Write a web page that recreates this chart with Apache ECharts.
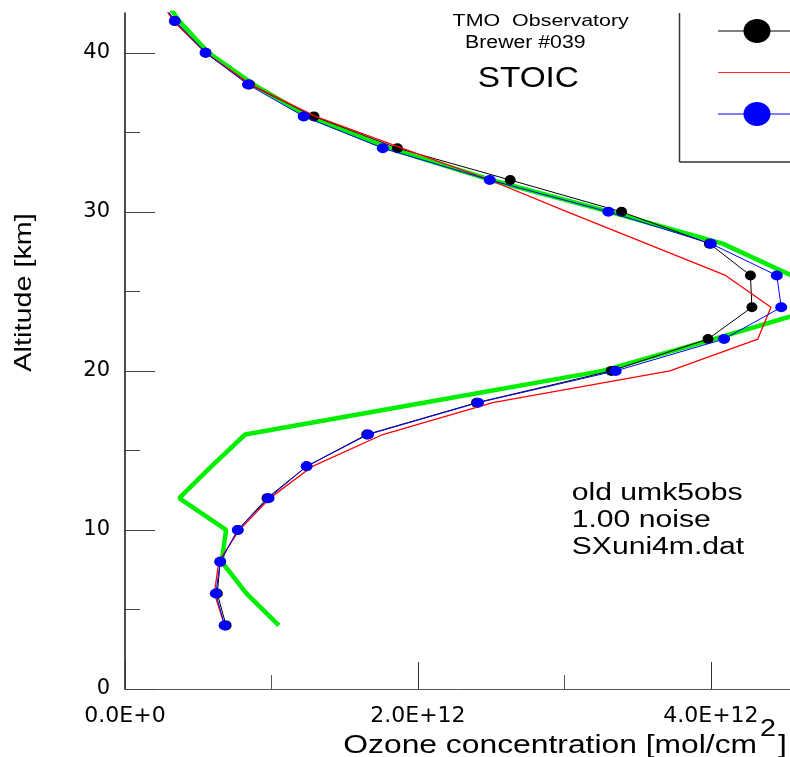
<!DOCTYPE html>
<html>
<head>
<meta charset="utf-8">
<script src="https://cdn.jsdelivr.net/npm/echarts@6/dist/echarts.min.js"></script>
<style>
  html, body { margin: 0; padding: 0; background: #ffffff; }
  #chart { width: 790px; height: 757px; }
</style>
</head>
<body>
<div id="chart"></div>
<script>
// Altitude levels [km]
const altitudes = [44, 42, 40, 38, 36, 34, 32, 30, 28, 26, 24, 22, 20, 18, 16, 14, 12, 10, 8, 6, 4];

// Ozone number density profiles, in units of 1E+12 mol/cm2
const blackProfile = [0.19, 0.34, 0.55, 0.85, 1.29, 1.86, 2.63, 3.39, 3.99, 4.27, 4.28, 3.98, 3.32, 2.40, 1.65, 1.24, 0.97, 0.77, 0.65, 0.63, 0.69];
const redProfile   = [0.19, 0.33, 0.55, 0.86, 1.30, 1.89, 2.49, 3.02, 3.56, 4.10, 4.41, 4.32, 3.72, 2.51, 1.76, 1.28, 0.99, 0.78, 0.64, 0.61, 0.68];
const blueProfile  = [0.19, 0.34, 0.55, 0.84, 1.22, 1.76, 2.49, 3.30, 4.00, 4.45, 4.48, 4.09, 3.35, 2.41, 1.66, 1.24, 0.98, 0.77, 0.65, 0.62, 0.68];
const greenProfile = [0.22, 0.37, 0.57, 0.88, 1.25, 1.80, 2.50, 3.31, 4.08, 4.55, 4.76, 4.02, 3.26, 2.04, 0.82, 0.59, 0.37, 0.69, 0.66, 0.83, 1.05];

// Axis ticks
const xTickValues = [0, 2, 4];
const xTickLabels = ['0.0E+0', '2.0E+12', '4.0E+12'];
const yTickValues = [0, 10, 20, 30, 40];
const yTickLabels = ['0', '10', '20', '30', '40'];

const pairs = (xs) => xs.map((v, i) => [v, altitudes[i]]);

const FONT = '"Liberation Sans", Arial, sans-serif';

function label(text, x, y, size, sx, align, extra) {
  return Object.assign({
    type: 'text',
    x: x, y: y,
    scaleX: sx, scaleY: 1,
    z: 100,
    style: {
      text: text,
      x: 0, y: 0,
      fontSize: size,
      fontFamily: FONT,
      fill: '#000',
      textAlign: align,
      textVerticalAlign: 'middle'
    }
  }, extra || {});
}

const chart = echarts.init(document.getElementById('chart'), null, { renderer: 'canvas' });

chart.setOption({
  animation: false,
  backgroundColor: '#ffffff',
  grid: { left: 125, top: 13, right: 0, bottom: 68, containLabel: false },
  xAxis: {
    type: 'value',
    min: 0,
    max: 4.54,
    interval: 2,
    axisLine: { show: true, onZero: false, lineStyle: { color: '#555', width: 1 } },
    axisTick: { show: true, inside: true, length: 27, customValues: xTickValues, lineStyle: { color: '#333', width: 1 } },
    minorTick: { show: true, splitNumber: 2, length: 14, lineStyle: { color: '#555', width: 1 } },
    splitLine: { show: false },
    axisLabel: {
      customValues: xTickValues,
      margin: 16,
      fontFamily: '"DejaVu Sans", sans-serif',
      fontSize: 22,
      color: '#000',
      formatter: (v) => {
        const i = xTickValues.findIndex((t) => Math.abs(t - v) < 1e-9);
        return i >= 0 ? xTickLabels[i] : '';
      }
    }
  },
  yAxis: {
    type: 'value',
    min: 0,
    max: 42.5,
    interval: 10,
    axisLine: { show: true, onZero: false, lineStyle: { color: '#111', width: 1.5 } },
    axisTick: { show: true, inside: true, length: 30, customValues: yTickValues, lineStyle: { color: '#444', width: 1 } },
    minorTick: { show: true, splitNumber: 2, length: 15, lineStyle: { color: '#444', width: 1 } },
    splitLine: { show: false },
    axisLabel: {
      customValues: yTickValues,
      margin: 15,
      fontFamily: '"DejaVu Sans", sans-serif',
      fontSize: 21,
      color: '#000',
      formatter: (v) => {
        const i = yTickValues.findIndex((t) => Math.abs(t - v) < 1e-9);
        return i >= 0 ? yTickLabels[i] : '';
      }
    }
  },
  series: [
    {
      name: 'green', type: 'line', data: pairs(greenProfile), z: 2,
      showSymbol: false, symbol: 'none', clip: true,
      lineStyle: { color: '#00ee00', width: 4.5 }
    },
    {
      name: 'black', type: 'line', data: pairs(blackProfile), z: 3,
      symbol: 'circle', symbolSize: [11, 10], clip: true,
      itemStyle: { color: '#000' },
      lineStyle: { color: '#000', width: 1 }
    },
    {
      name: 'red', type: 'line', data: pairs(redProfile), z: 4,
      showSymbol: false, symbol: 'none', clip: true,
      lineStyle: { color: '#ff0000', width: 1.3 }
    },
    {
      name: 'blue', type: 'line', data: pairs(blueProfile), z: 5,
      symbol: 'circle', symbolSize: [12, 10], clip: true,
      itemStyle: { color: '#0000ff' },
      lineStyle: { color: '#0000ff', width: 1 }
    }
  ],
  graphic: [
    // header
    label('TMO  Observatory', 540.7, 21.2, 17, 1.26, 'center'),
    label('Brewer #039', 525.3, 42.7, 18, 1.18, 'center'),
    label('STOIC', 528.3, 78.8, 29, 1.15, 'center'),
    // run notes
    label('old umk5obs', 571.7, 493.3, 23, 1.31, 'left'),
    label('1.00 noise', 571.7, 520.3, 23, 1.31, 'left'),
    label('SXuni4m.dat', 571.7, 547.3, 23, 1.31, 'left'),
    // axis titles
    label('Ozone concentration [mol/cm', 343.3, 745.8, 25.6, 1.243, 'left'),
    label('2', 760, 730, 23, 1.25, 'left'),
    label(']', 778, 745.8, 25.6, 1.24, 'left'),
    label('Altitude [km]', 24, 292.4, 24, 1.2, 'center', { rotation: Math.PI / 2 }),
    // legend frame
    { type: 'line', z: 100, shape: { x1: 679.5, y1: 13, x2: 679.5, y2: 162 }, style: { stroke: '#333', lineWidth: 1.5 } },
    { type: 'line', z: 100, shape: { x1: 679.5, y1: 162, x2: 790, y2: 162 }, style: { stroke: '#333', lineWidth: 1.5 } },
    // legend keys
    { type: 'line', z: 100, shape: { x1: 718, y1: 31, x2: 790, y2: 31 }, style: { stroke: '#000', lineWidth: 1 } },
    { type: 'ellipse', z: 101, shape: { cx: 757, cy: 31, rx: 13.5, ry: 12 }, style: { fill: '#000' } },
    { type: 'line', z: 100, shape: { x1: 718, y1: 72.5, x2: 790, y2: 72.5 }, style: { stroke: '#ff3030', lineWidth: 1 } },
    { type: 'line', z: 100, shape: { x1: 718, y1: 114, x2: 790, y2: 114 }, style: { stroke: '#0000ff', lineWidth: 1 } },
    { type: 'ellipse', z: 101, shape: { cx: 757, cy: 114, rx: 13.5, ry: 12 }, style: { fill: '#0000ff' } }
  ]
});
</script>
</body>
</html>
